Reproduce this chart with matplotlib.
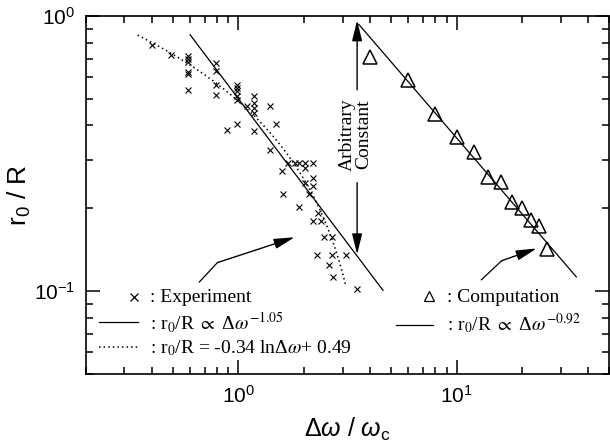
import matplotlib.pyplot as plt
import numpy as np
from matplotlib.ticker import LogLocator, NullFormatter

plt.rcParams['font.family'] = ['Liberation Sans', 'DejaVu Sans']
plt.rcParams['mathtext.fontset'] = 'custom'
plt.rcParams['mathtext.rm'] = 'Liberation Sans'
plt.rcParams['mathtext.it'] = 'Liberation Sans:italic'
plt.rcParams['mathtext.bf'] = 'Liberation Sans:bold'

# Experiment points (x markers)
exp_x = [0.40, 0.49,
         0.59, 0.59, 0.59, 0.59, 0.59, 0.59,
         0.79, 0.79, 0.79, 0.79,
         0.98, 0.98, 0.98, 0.98, 0.98, 0.98, 0.89,
         1.09, 1.18, 1.18, 1.18, 1.18, 1.18,
         1.39, 1.39, 1.49,
         1.68, 1.81, 1.90, 2.01, 2.19, 2.01, 1.59,
         2.01, 2.19, 2.19, 1.60, 2.10, 1.89, 2.31,
         2.19, 2.39, 2.48, 2.69, 2.30, 2.69, 3.12,
         2.59, 2.71, 3.49]
exp_y = [0.787, 0.720,
         0.716, 0.697, 0.679, 0.625, 0.617, 0.540,
         0.677, 0.630, 0.562, 0.517,
         0.562, 0.547, 0.532, 0.510, 0.496, 0.405, 0.386,
         0.472, 0.510, 0.483, 0.463, 0.444, 0.381,
         0.472, 0.327, 0.406,
         0.293, 0.293, 0.293, 0.293, 0.293, 0.281, 0.273,
         0.248, 0.258, 0.241, 0.225, 0.225, 0.203, 0.193,
         0.180, 0.180, 0.158, 0.158, 0.135, 0.135, 0.135,
         0.124, 0.113, 0.102]

# Computation points (triangles)
comp_x = [4, 6, 8, 10, 12, 14, 16, 18, 20, 22, 24, 26]
comp_y = [0.710, 0.586, 0.440, 0.364, 0.320, 0.260, 0.250, 0.211,
          0.201, 0.181, 0.172, 0.142]

# Fits
exp_pow_c, exp_pow_n, exp_pow_lim = 0.50, -1.05, (0.6, 4.6)
comp_pow_c, comp_pow_n, comp_pow_lim = 3.0, -0.92, (3.56, 35.4)
ln_a, ln_b, ln_lim = -0.34, 0.49, (0.345, 3.1)

fig = plt.figure(figsize=(6.1, 4.47), dpi=100)
ax = fig.add_axes([86 / 610, 73 / 447, 523 / 610, 358 / 447])
ax.set_xscale('log')
ax.set_yscale('log')
ax.set_xlim(0.2, 50)
ax.set_ylim(0.05, 1.0)

ax.plot(exp_x, exp_y, 'x', color='k', ms=5, mew=0.8)
ax.plot(comp_x, comp_y, '^', color='k', mfc='none', ms=10, mew=1.1)

xs = np.geomspace(*exp_pow_lim, 60)
ax.plot(xs, exp_pow_c * xs ** exp_pow_n, 'k-', lw=0.9)
xs = np.geomspace(*comp_pow_lim, 60)
ax.plot(xs, comp_pow_c * xs ** comp_pow_n, 'k-', lw=0.9)
xs = np.geomspace(*ln_lim, 80)
ax.plot(xs, ln_b + ln_a * np.log(xs), color='k', lw=1.1, ls=(0, (1, 2)))

# "Arbitrary Constant" double arrow
arr = dict(arrowstyle='-|>,head_length=0.9,head_width=0.22', color='k',
           lw=1.0, mutation_scale=14, shrinkA=0, shrinkB=0)
ax.annotate('', xy=(3.5, 0.965), xytext=(3.5, 0.539), arrowprops=arr)
ax.annotate('', xy=(3.5, 0.136), xytext=(3.5, 0.248), arrowprops=arr)
ax.text(3.45, 0.371, 'Arbitrary\nConstant', rotation=90, ha='center',
        va='center', family='Liberation Serif', fontsize=14, linespacing=1.0)

# pointer arrows from legends
ax.plot([0.662, 0.801], [0.108, 0.127], color='k', lw=0.9)
ax.annotate('', xy=(1.81, 0.157), xytext=(0.801, 0.127), arrowprops=arr)
ax.plot([13.0, 16.1], [0.110, 0.129], color='k', lw=0.9)
ax.annotate('', xy=(23.3, 0.143), xytext=(16.1, 0.129), arrowprops=arr)

# hand-made legends
serif = dict(family='Liberation Serif', math_fontfamily='stix', fontsize=14,
             transform=ax.transAxes, va='baseline', ha='left')
ax.plot([0.0918], [0.215], 'x', color='k', ms=6, mew=0.9, transform=ax.transAxes)
ax.text(0.1224, 0.2023, ': Experiment', **serif)
ax.plot([0.025, 0.099], [0.146, 0.146], 'k-', lw=0.9, transform=ax.transAxes)
ax.text(0.1224, 0.1229, r': r$_0$/R $\propto$ Δ$\omega^{-1.05}$', **serif)
ax.plot([0.025, 0.099], [0.0754, 0.0754], color='k', lw=1.1, ls=(0, (1, 2)),
        transform=ax.transAxes)
ax.text(0.1224, 0.0578, r': r$_0$/R = -0.34 lnΔ$\omega$+ 0.49', **serif)

ax.plot([0.656], [0.218], '^', color='k', mfc='none', ms=7, mew=0.9,
        transform=ax.transAxes)
ax.text(0.690, 0.2023, ': Computation', **serif)
ax.plot([0.593, 0.6635], [0.137, 0.137], 'k-', lw=0.9, transform=ax.transAxes)
ax.text(0.690, 0.1229, r': r$_0$/R $\propto$ Δ$\omega^{-0.92}$', **serif)

# axes styling
for s in ax.spines.values():
    s.set_linewidth(1.2)
ax.yaxis.set_major_locator(LogLocator(base=10))
ax.yaxis.set_minor_locator(LogLocator(base=10, subs=np.arange(2, 10)))
ax.xaxis.set_minor_locator(LogLocator(base=10, subs=np.arange(2, 10)))
ax.xaxis.set_minor_formatter(NullFormatter())
ax.yaxis.set_minor_formatter(NullFormatter())
ax.tick_params(which='both', direction='in', top=True, right=True,
               labelsize=15, width=1.1)
ax.tick_params(which='major', length=10, pad=8)
ax.tick_params(which='minor', length=5)

ax.set_xlabel(r'$\Delta\omega\ /\ \omega_\mathrm{c}$', fontsize=18, labelpad=6)
ax.set_ylabel(r'r$_0$ / R', fontsize=19)
ax.yaxis.set_label_coords(-0.101, 0.5)

fig.savefig('out.png', dpi=100)
